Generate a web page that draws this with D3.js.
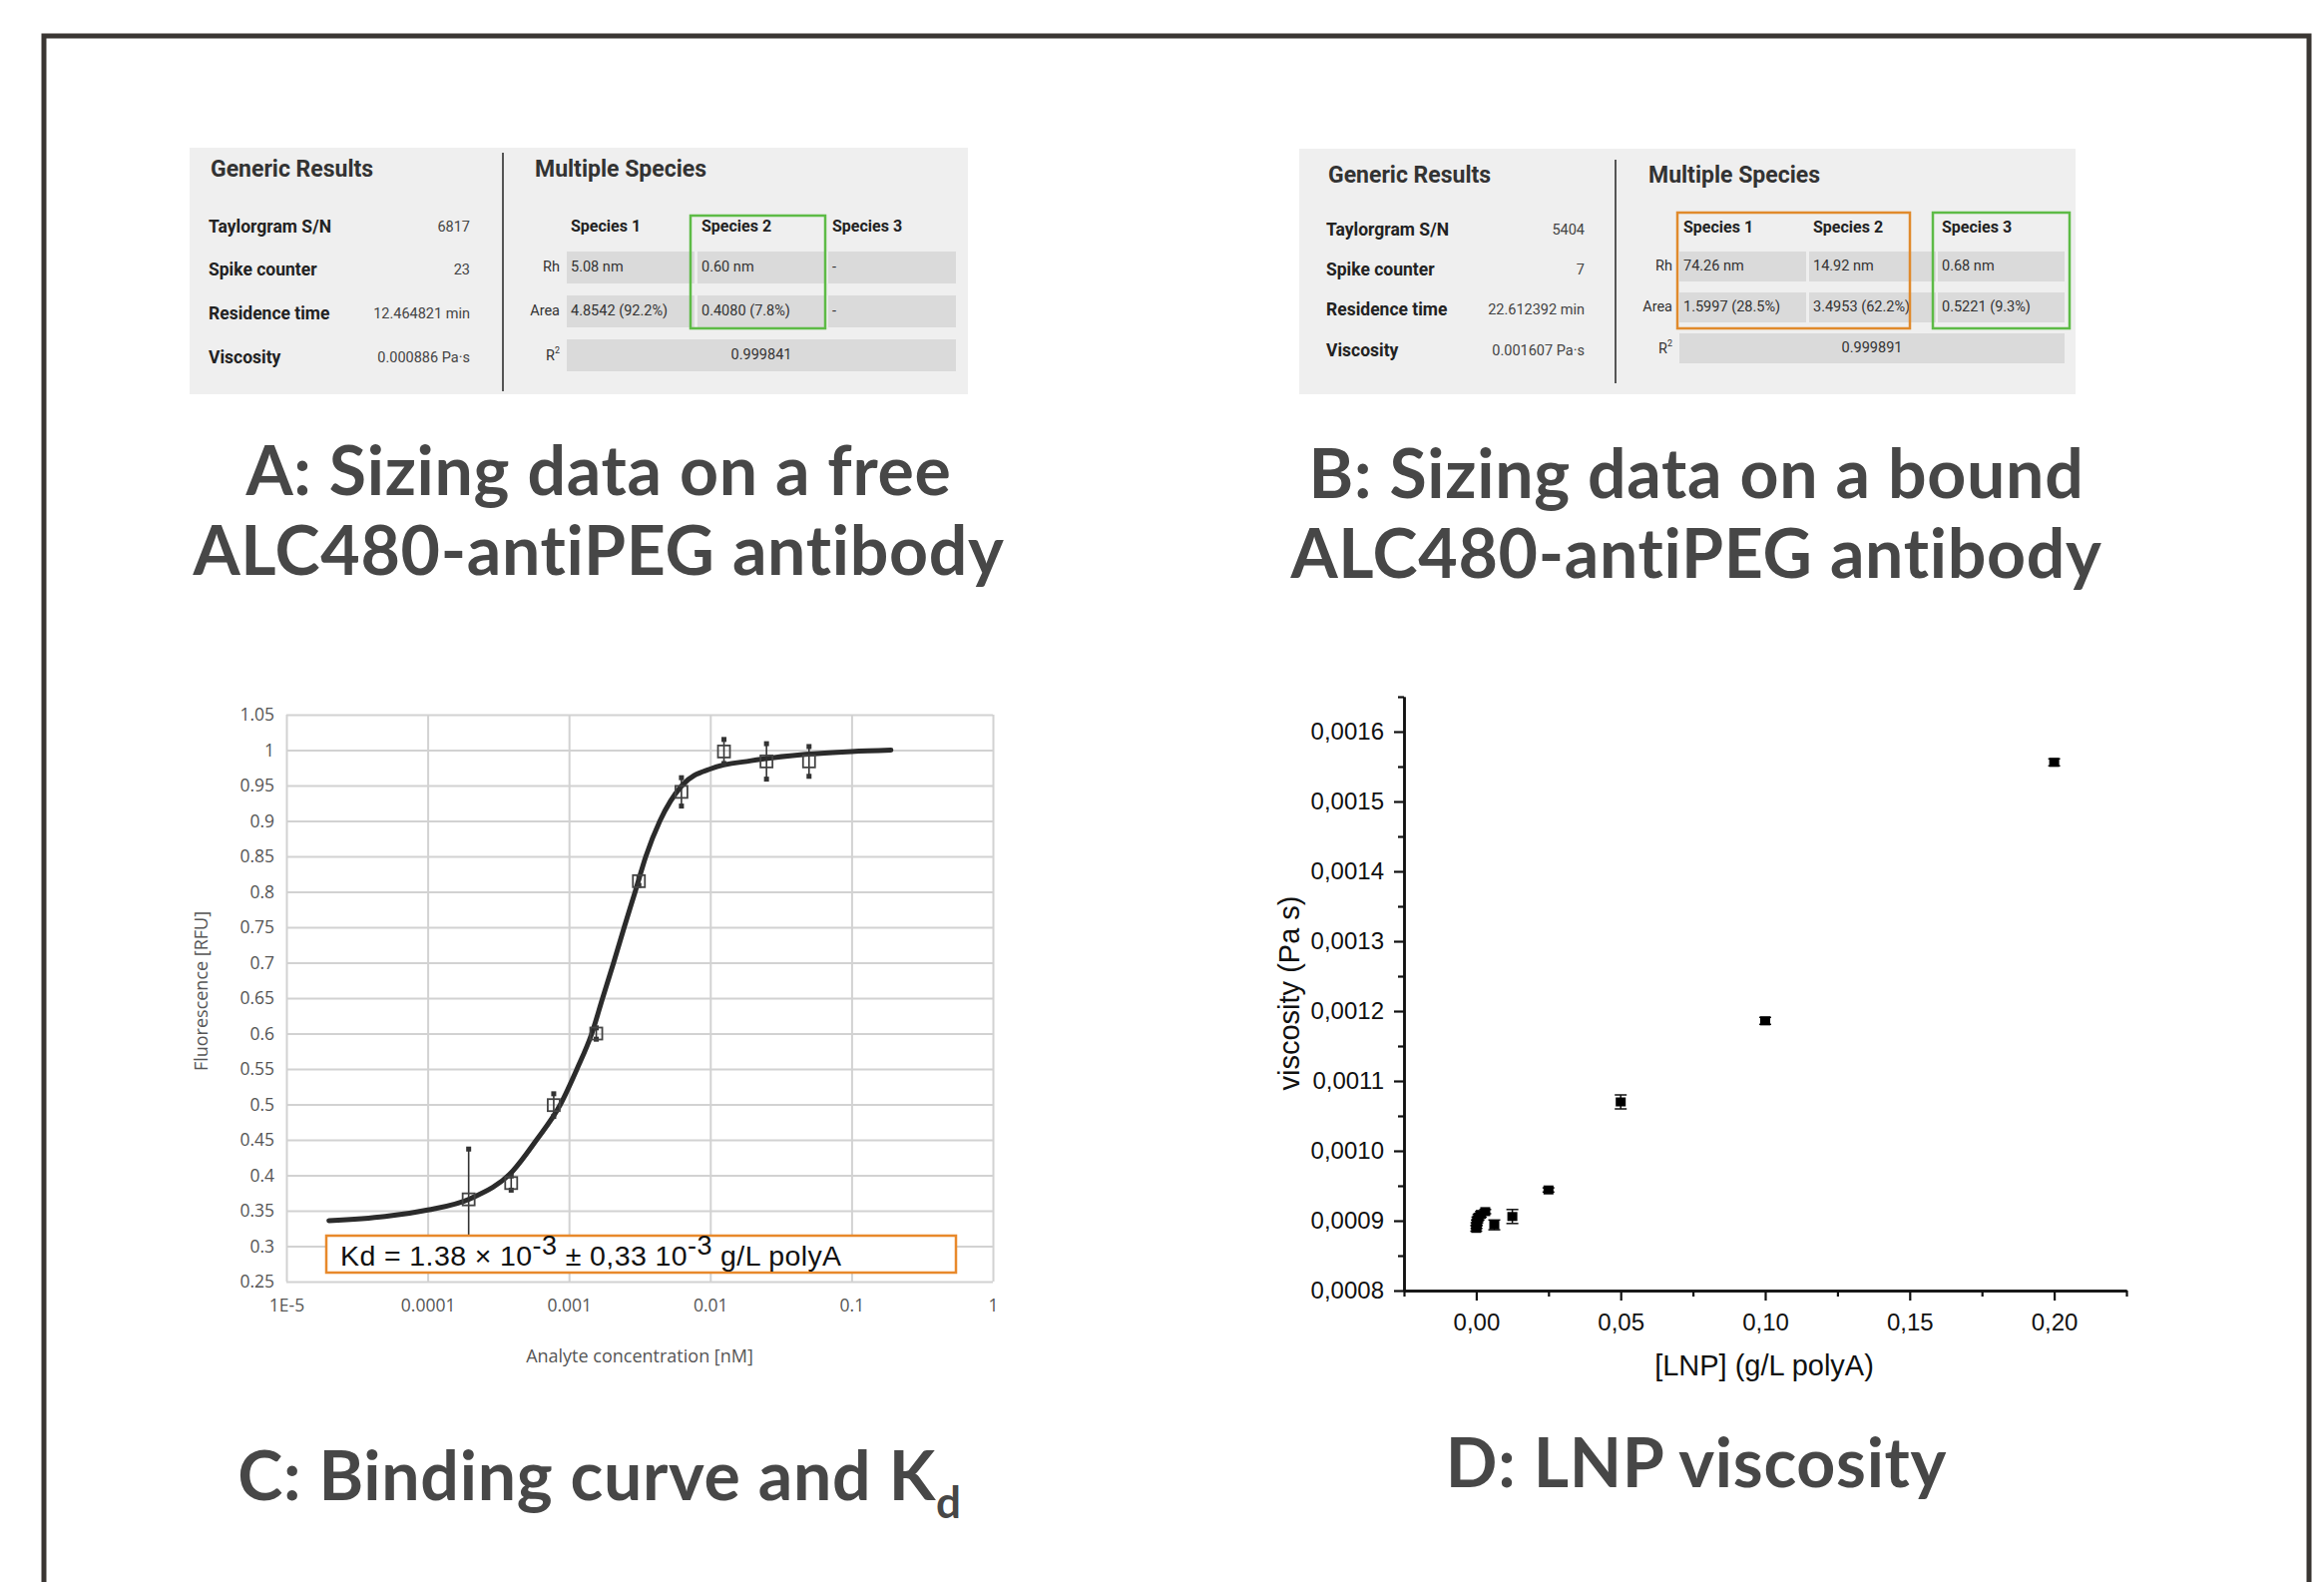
<!DOCTYPE html>
<html>
<head>
<meta charset="utf-8">
<script src="https://cdn.jsdelivr.net/npm/d3@7"></script>
<style>
  body { margin: 0; background: #fff; }
  svg { display: block; }
</style>
</head>
<body>
<div id="figure"></div>
<script>
// Define SVG area dimensions
var svgWidth = 2329;
var svgHeight = 1585;

// ---- Tables (panels A and B)
var genericLabels = ["Taylorgram S/N", "Spike counter", "Residence time", "Viscosity"];
var genericValuesA = ["6817", "23", "12.464821 min", "0.000886 Pa·s"];
var genericValuesB = ["5404", "7", "22.612392 min", "0.001607 Pa·s"];
var speciesNames = ["Species 1", "Species 2", "Species 3"];
var rhA = ["5.08 nm", "0.60 nm", "-"];
var areaA = ["4.8542 (92.2%)", "0.4080 (7.8%)", "-"];
var r2A = "0.999841";
var rhB = ["74.26 nm", "14.92 nm", "0.68 nm"];
var areaB = ["1.5997 (28.5%)", "3.4953 (62.2%)", "0.5221 (9.3%)"];
var r2B = "0.999891";

// ---- Panel C: binding curve
var concC = [0.000195, 0.00039, 0.00078, 0.00156, 0.003125, 0.00625, 0.0125, 0.025, 0.05];
var fluorC = [0.366, 0.389, 0.499, 0.600, 0.815, 0.941, 0.998, 0.984, 0.984];
var errC = [0.071, 0.010, 0.016, 0.008, 0.006, 0.020, 0.017, 0.025, 0.021];
var fitX = [2e-5, 5e-5, 1e-4, 2e-4, 4e-4, 5.9e-4, 8.7e-4, 1.14e-3, 1.45e-3, 1.73e-3, 2.07e-3, 2.46e-3, 2.94e-3, 3.5e-3, 4.4e-3, 6.3e-3, 1.02e-2, 1.95e-2, 4.7e-2, 0.1, 0.19];
var fitY = [0.336, 0.342, 0.351, 0.367, 0.406, 0.45, 0.5, 0.55, 0.6, 0.65, 0.7, 0.75, 0.8, 0.85, 0.9, 0.95, 0.974, 0.985, 0.994, 0.998, 1.0];
var xTicksC = [1e-5, 1e-4, 1e-3, 1e-2, 0.1, 1];
var xLabelsC = ["1E-5", "0.0001", "0.001", "0.01", "0.1", "1"];
var yTicksC = [0.25, 0.3, 0.35, 0.4, 0.45, 0.5, 0.55, 0.6, 0.65, 0.7, 0.75, 0.8, 0.85, 0.9, 0.95, 1, 1.05];
var yLabelsC = ["0.25", "0.3", "0.35", "0.4", "0.45", "0.5", "0.55", "0.6", "0.65", "0.7", "0.75", "0.8", "0.85", "0.9", "0.95", "1", "1.05"];

// ---- Panel D: LNP viscosity
var lnpConc = [0, 0.0001, 0.0002, 0.0004, 0.0008, 0.0016, 0.003125, 0.00625, 0.0125, 0.025, 0.05, 0.1, 0.2];
var viscMean = [0.000889, 0.000893, 0.000897, 0.000901, 0.000905, 0.000909, 0.000913, 0.000894, 0.000906, 0.000944, 0.00107, 0.001186, 0.001556];
var viscErr = [0.000004, 0.000004, 0.000004, 0.000004, 0.000004, 0.000004, 0.000003, 0.000007, 0.00001, 0.000003, 0.00001, 0.000005, 0.000005];
var xTicksD = [0, 0.05, 0.1, 0.15, 0.2];
var xLabelsD = ["0,00", "0,05", "0,10", "0,15", "0,20"];
var xMinorD = [-0.025, 0.025, 0.075, 0.125, 0.175, 0.225];
var yTicksD = [0.0008, 0.0009, 0.001, 0.0011, 0.0012, 0.0013, 0.0014, 0.0015, 0.0016];
var yLabelsD = ["0,0008", "0,0009", "0,0010", "0,0011", "0,0012", "0,0013", "0,0014", "0,0015", "0,0016"];
var yMinorD = [0.00085, 0.00095, 0.00105, 0.00115, 0.00125, 0.00135, 0.00145, 0.00155, 0.00165];

var svg = d3.select("#figure")
  .append("svg")
  .attr("width", svgWidth)
  .attr("height", svgHeight);

// outer frame (open at the bottom)
svg.append("path")
  .attr("d", "M44,1600 V36 H2314 V1600")
  .attr("fill", "none")
  .attr("stroke", "#3a3633")
  .attr("stroke-width", 5);

// ============ Tables ============
function drawTable(t) {
  var g = svg.append("g").style("font-family", "Roboto, 'Open Sans', sans-serif");

  g.append("rect")
    .attr("x", t.x).attr("y", t.y).attr("width", t.w).attr("height", t.h)
    .attr("fill", "#efefef");

  g.append("line")
    .attr("x1", t.divX).attr("x2", t.divX).attr("y1", t.divY1).attr("y2", t.divY2)
    .attr("stroke", "#555").attr("stroke-width", 2);

  g.append("text").attr("x", t.genX).attr("y", t.headY)
    .attr("dominant-baseline", "middle")
    .attr("font-size", 23).attr("font-weight", 700).attr("fill", "#333")
    .text("Generic Results");

  g.append("text").attr("x", t.msX).attr("y", t.headY)
    .attr("dominant-baseline", "middle")
    .attr("font-size", 23).attr("font-weight", 700).attr("fill", "#333")
    .text("Multiple Species");

  g.selectAll(".glabel").data(genericLabels).enter()
    .append("text")
    .attr("x", t.genX - 2)
    .attr("y", (d, i) => t.rowY[i])
    .attr("dominant-baseline", "middle")
    .attr("font-size", 17.5).attr("font-weight", 700).attr("fill", "#222")
    .text(d => d);

  g.selectAll(".gvalue").data(t.values).enter()
    .append("text")
    .attr("x", t.valX)
    .attr("y", (d, i) => t.rowY[i])
    .attr("dominant-baseline", "middle")
    .attr("text-anchor", "end")
    .attr("font-size", 14.5).attr("fill", "#444")
    .text(d => d);

  // species headers
  g.selectAll(".sp").data(speciesNames).enter()
    .append("text")
    .attr("x", (d, i) => t.colX[i] + 4)
    .attr("y", t.spY)
    .attr("dominant-baseline", "middle")
    .attr("font-size", 16).attr("font-weight", 700).attr("fill", "#222")
    .text(d => d);

  // cells
  [[t.rh, t.rhY], [t.area, t.areaY]].forEach(function (row) {
    g.selectAll(null).data(row[0]).enter()
      .append("rect")
      .attr("x", (d, i) => t.colX[i])
      .attr("y", row[1])
      .attr("width", t.colW)
      .attr("height", t.cellH)
      .attr("fill", "#dadada");
    g.selectAll(null).data(row[0]).enter()
      .append("text")
      .attr("x", (d, i) => t.colX[i] + 4)
      .attr("y", row[1] + t.cellH / 2)
      .attr("dominant-baseline", "middle")
      .attr("font-size", 14.5).attr("fill", "#333")
      .text(d => d);
  });

  g.append("rect")
    .attr("x", t.colX[0]).attr("y", t.r2Y)
    .attr("width", t.colX[2] + t.colW - t.colX[0]).attr("height", t.cellH)
    .attr("fill", "#dadada");
  g.append("text")
    .attr("x", (t.colX[0] + t.colX[2] + t.colW) / 2)
    .attr("y", t.r2Y + t.cellH / 2)
    .attr("dominant-baseline", "middle").attr("text-anchor", "middle")
    .attr("font-size", 14.5).attr("fill", "#333")
    .text(t.r2);

  // row labels
  g.append("text").attr("x", t.lblX).attr("y", t.rhY + t.cellH / 2)
    .attr("dominant-baseline", "middle").attr("text-anchor", "end")
    .attr("font-size", 14.5).attr("fill", "#333").text("Rh");
  g.append("text").attr("x", t.lblX).attr("y", t.areaY + t.cellH / 2)
    .attr("dominant-baseline", "middle").attr("text-anchor", "end")
    .attr("font-size", 14.5).attr("fill", "#333").text("Area");
  var r2t = g.append("text").attr("x", t.lblX).attr("y", t.r2Y + t.cellH / 2 + 5)
    .attr("text-anchor", "end")
    .attr("font-size", 14.5).attr("fill", "#333");
  r2t.append("tspan").text("R");
  r2t.append("tspan").attr("font-size", 9).attr("dy", -7).text("2");

  // highlight boxes
  t.boxes.forEach(function (b) {
    g.append("rect")
      .attr("x", b.x).attr("y", b.y).attr("width", b.w).attr("height", b.h)
      .attr("fill", "none").attr("stroke", b.color).attr("stroke-width", 2.5);
  });
}

drawTable({
  x: 190, y: 148, w: 780, h: 247,
  divX: 504, divY1: 153, divY2: 392,
  genX: 211, msX: 536, headY: 171,
  rowY: [228, 271, 315, 359], valX: 471, values: genericValuesA,
  colX: [568, 699, 830], colW: 128, cellH: 32,
  spY: 228, rhY: 252, areaY: 296, r2Y: 340, lblX: 561,
  rh: rhA, area: areaA, r2: r2A,
  boxes: [{ x: 692, y: 216, w: 135, h: 113, color: "#5dbb46" }]
});

drawTable({
  x: 1302, y: 149, w: 778, h: 246,
  divX: 1619, divY1: 160, divY2: 384,
  genX: 1331, msX: 1652, headY: 177,
  rowY: [231, 271, 311, 352], valX: 1588, values: genericValuesB,
  colX: [1683, 1813, 1942], colW: 127, cellH: 30,
  spY: 229, rhY: 252, areaY: 293, r2Y: 334, lblX: 1676,
  rh: rhB, area: areaB, r2: r2B,
  boxes: [{ x: 1681, y: 213, w: 233, h: 116, color: "#e08a2c" },
          { x: 1937, y: 213, w: 137, h: 116, color: "#5dbb46" }]
});

// ============ Panel titles ============
var titleGroup = svg.append("g")
  .style("font-family", "Lato, 'Open Sans', sans-serif")
  .attr("font-weight", 700)
  .attr("fill", "#474747")
  .attr("font-size", 68)
  .attr("letter-spacing", 0.7)
  .attr("text-anchor", "middle");

titleGroup.append("text").attr("x", 600).attr("y", 496).text("A: Sizing data on a free");
titleGroup.append("text").attr("x", 600).attr("y", 576).text("ALC480-antiPEG antibody");
titleGroup.append("text").attr("x", 1700).attr("y", 499).text("B: Sizing data on a bound");
titleGroup.append("text").attr("x", 1700).attr("y", 579).text("ALC480-antiPEG antibody");
var tc = titleGroup.append("text").attr("x", 601).attr("y", 1503);
tc.append("tspan").text("C: Binding curve and K");
tc.append("tspan").attr("font-size", 44).attr("dy", 18).text("d");
titleGroup.append("text").attr("x", 1700).attr("y", 1490).text("D: LNP viscosity");

// ============ Panel C ============
var xC = d3.scaleLog().domain([1e-5, 1]).range([287, 995]);
var yC = d3.scaleLinear().domain([0.25, 1.05]).range([1284, 716]);

var gC = svg.append("g").style("font-family", "'Open Sans', sans-serif");

var xAxisC = d3.axisBottom(xC)
  .tickValues(xTicksC)
  .tickFormat((d, i) => xLabelsC[i])
  .tickSizeInner(-(yC(0.25) - yC(1.05)))
  .tickSizeOuter(0)
  .tickPadding(18);

var yAxisC = d3.axisLeft(yC)
  .tickValues(yTicksC)
  .tickFormat((d, i) => yLabelsC[i])
  .tickSizeInner(-(xC(1) - xC(1e-5)))
  .tickSizeOuter(0)
  .tickPadding(12);

gC.append("g").attr("transform", `translate(0, ${yC(0.25)})`).call(xAxisC);
gC.append("g").attr("transform", `translate(${xC(1e-5)}, 0)`).call(yAxisC);
gC.selectAll(".domain").remove();
gC.selectAll(".tick line").attr("stroke", "#d2d2d2").attr("stroke-width", 2);
gC.selectAll(".tick text").attr("font-size", 17.5).attr("fill", "#555")
  .style("font-family", "'Open Sans', sans-serif");

// fitted curve
var fitLine = d3.line()
  .x(d => xC(d[0]))
  .y(d => yC(d[1]))
  .curve(d3.curveMonotoneX);

gC.append("path")
  .datum(d3.zip(fitX, fitY))
  .attr("d", fitLine)
  .attr("fill", "none")
  .attr("stroke", "#2b2b2b")
  .attr("stroke-width", 5)
  .attr("stroke-linecap", "round");

var ptsC = d3.zip(concC, fluorC, errC);

gC.selectAll(".errC").data(ptsC).enter()
  .append("line")
  .attr("x1", d => xC(d[0])).attr("x2", d => xC(d[0]))
  .attr("y1", d => yC(d[1] + d[2])).attr("y2", d => yC(d[1] - d[2]))
  .attr("stroke", "#333").attr("stroke-width", 1.6);

[1, -1].forEach(function (s) {
  gC.selectAll(null).data(ptsC).enter()
    .append("rect")
    .attr("x", d => xC(d[0]) - 2.5)
    .attr("y", d => yC(d[1] + s * d[2]) - 2.5)
    .attr("width", 5).attr("height", 5)
    .attr("fill", "#333");
});

gC.selectAll(".ptC").data(ptsC).enter()
  .append("rect")
  .attr("x", d => xC(d[0]) - 6)
  .attr("y", d => yC(d[1]) - 6)
  .attr("width", 12).attr("height", 12)
  .attr("fill", "none")
  .attr("stroke", "#444")
  .attr("stroke-width", 1.8);

// Kd annotation
gC.append("rect")
  .attr("x", 327).attr("y", 1238).attr("width", 631).attr("height", 37)
  .attr("fill", "#fff").attr("stroke", "#e8892b").attr("stroke-width", 2.5);

var kd = gC.append("text")
  .attr("x", 341).attr("y", 1268)
  .style("font-family", "'Liberation Sans', Arial, sans-serif")
  .attr("font-size", 28.5).attr("letter-spacing", 0.4).attr("fill", "#111");
kd.append("tspan").text("Kd = 1.38 × 10");
kd.append("tspan").attr("font-size", 27).attr("dy", -11).text("-3");
kd.append("tspan").attr("dy", 11).text(" ± 0,33 10");
kd.append("tspan").attr("font-size", 27).attr("dy", -11).text("-3");
kd.append("tspan").attr("dy", 11).text(" g/L polyA");

// axis labels
gC.append("text")
  .attr("x", 641).attr("y", 1365)
  .attr("text-anchor", "middle")
  .attr("font-size", 18).attr("fill", "#555")
  .text("Analyte concentration [nM]");

gC.append("text")
  .attr("transform", "translate(208, 993) rotate(-90)")
  .attr("text-anchor", "middle")
  .attr("font-size", 18).attr("fill", "#555")
  .text("Fluorescence [RFU]");

// ============ Panel D ============
var xD = d3.scaleLinear().domain([-0.025, 0.225]).range([1407, 2131]);
var yD = d3.scaleLinear().domain([0.0008, 0.00165]).range([1293, 698]);

var gD = svg.append("g").style("font-family", "'Liberation Sans', Arial, sans-serif");

var xAxisD = d3.axisBottom(xD)
  .tickValues(xTicksD)
  .tickFormat((d, i) => xLabelsD[i])
  .tickSizeInner(10).tickSizeOuter(0).tickPadding(13);
var xMinorAxisD = d3.axisBottom(xD)
  .tickValues(xMinorD).tickFormat("")
  .tickSizeInner(6).tickSizeOuter(0);
var yAxisD = d3.axisLeft(yD)
  .tickValues(yTicksD)
  .tickFormat((d, i) => yLabelsD[i])
  .tickSizeInner(10).tickSizeOuter(0).tickPadding(10);
var yMinorAxisD = d3.axisLeft(yD)
  .tickValues(yMinorD).tickFormat("")
  .tickSizeInner(6).tickSizeOuter(0);

gD.append("g").attr("transform", `translate(0, ${yD(0.0008)})`).call(xMinorAxisD);
gD.append("g").attr("transform", `translate(${xD(-0.025)}, 0)`).call(yMinorAxisD);
gD.append("g").attr("transform", `translate(0, ${yD(0.0008)})`).call(xAxisD);
gD.append("g").attr("transform", `translate(${xD(-0.025)}, 0)`).call(yAxisD);
gD.selectAll(".domain").attr("stroke", "#111").attr("stroke-width", 2.5);
gD.selectAll(".tick line").attr("stroke", "#111").attr("stroke-width", 2.2);
gD.selectAll(".tick text").attr("font-size", 24).attr("fill", "#111")
  .style("font-family", "'Liberation Sans', Arial, sans-serif");

var ptsD = d3.zip(lnpConc, viscMean, viscErr);

gD.selectAll(".errD").data(ptsD).enter()
  .append("line")
  .attr("x1", d => xD(d[0])).attr("x2", d => xD(d[0]))
  .attr("y1", d => yD(d[1] + d[2])).attr("y2", d => yD(d[1] - d[2]))
  .attr("stroke", "#111").attr("stroke-width", 1.5);

[1, -1].forEach(function (s) {
  gD.selectAll(null).data(ptsD).enter()
    .append("line")
    .attr("x1", d => xD(d[0]) - 6).attr("x2", d => xD(d[0]) + 6)
    .attr("y1", d => yD(d[1] + s * d[2])).attr("y2", d => yD(d[1] + s * d[2]))
    .attr("stroke", "#111").attr("stroke-width", 1.5);
});

gD.selectAll(".ptD").data(ptsD).enter()
  .append("rect")
  .attr("x", d => xD(d[0]) - 5)
  .attr("y", d => yD(d[1]) - 4.5)
  .attr("width", 10).attr("height", 9)
  .attr("fill", "#000");

gD.append("text")
  .attr("x", 1768).attr("y", 1378)
  .attr("text-anchor", "middle")
  .attr("font-size", 29).attr("fill", "#111")
  .text("[LNP] (g/L polyA)");

gD.append("text")
  .attr("transform", "translate(1302, 995) rotate(-90)")
  .attr("text-anchor", "middle")
  .attr("font-size", 29).attr("fill", "#111")
  .text("viscosity (Pa s)");
</script>
</body>
</html>
